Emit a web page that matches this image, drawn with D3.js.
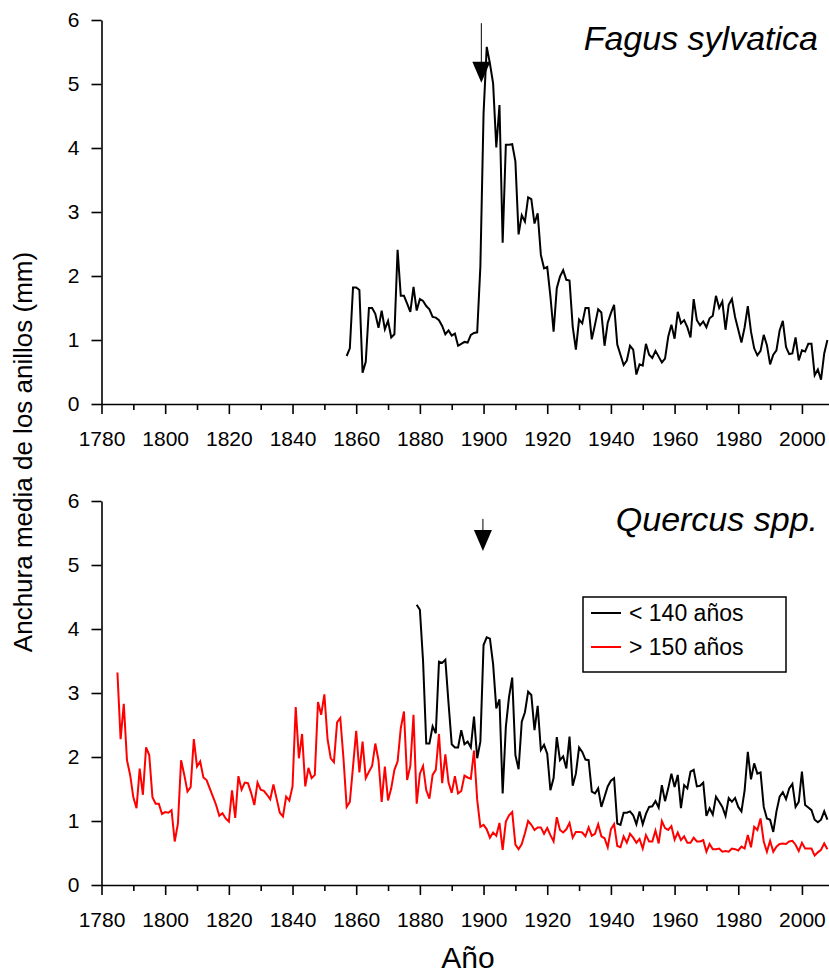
<!DOCTYPE html>
<html>
<head>
<meta charset="utf-8">
<script src="https://cdnjs.cloudflare.com/ajax/libs/d3/7.8.5/d3.min.js"></script>
<style>
    body { margin: 0; background: #fff; }
    svg { display: block; font-family: "Liberation Sans", Arial, sans-serif; }
    .axis path, .axis line { stroke: #000; stroke-width: 1.6px; }
    .axis text { font-size: 21px; fill: #000; font-family: "Liberation Sans", Arial, sans-serif; }
</style>
</head>
<body>
<script>
// Fagus sylvatica, mean ring width (mm), one value per year from 1857
var fagusStart = 1857;
var fagusWidth = [
    0.75, 0.87, 1.82,
    1.82, 1.78, 0.49, 0.66, 1.50, 1.50, 1.41, 1.19, 1.46, 1.17,
    1.30, 1.04, 1.09, 2.41, 1.69, 1.69, 1.57, 1.44, 1.83, 1.46,
    1.64, 1.61, 1.53, 1.48, 1.36, 1.35, 1.31, 1.22, 1.09, 1.15,
    1.07, 1.10, 0.91, 0.94, 0.97, 0.96, 1.08, 1.11, 1.12, 2.15,
    4.54, 5.58, 5.32, 5.01, 4.01, 4.67, 2.52, 4.05, 4.05, 4.06,
    3.79, 2.65, 2.95, 2.85, 3.23, 3.20, 2.82, 2.98, 2.33, 2.12,
    2.14, 1.68, 1.13, 1.81, 1.99, 2.09, 1.94, 1.93, 1.21, 0.85,
    1.32, 1.26, 1.50, 1.50, 1.01, 1.24, 1.48, 1.43, 0.91, 1.27,
    1.42, 1.55, 0.93, 0.77, 0.61, 0.68, 0.91, 0.85, 0.46, 0.62,
    0.60, 0.94, 0.77, 0.72, 0.83, 0.74, 0.65, 0.71, 1.05, 1.24,
    1.02, 1.44, 1.26, 1.31, 1.20, 1.04, 1.64, 1.31, 1.23, 1.29,
    1.20, 1.34, 1.38, 1.69, 1.50, 1.60, 1.16, 1.55, 1.64, 1.36,
    1.16, 0.96, 1.20, 1.53, 1.13, 0.87, 0.76, 0.83, 1.08, 0.92,
    0.62, 0.77, 0.84, 1.15, 1.30, 0.89, 0.78, 0.79, 1.04, 0.68,
    0.84, 0.82, 0.94, 0.94, 0.45, 0.54, 0.38, 0.79, 1.00
];

// Quercus spp. < 140 años, from 1879
var youngStart = 1879;
var youngWidth = [
    4.38,
    4.30, 3.50, 2.21, 2.21, 2.48, 2.37, 3.49, 3.47, 3.52, 2.84,
    2.20, 2.15, 2.15, 2.42, 2.20, 2.24, 2.15, 2.63, 1.98, 2.24,
    3.75, 3.87, 3.85, 3.45, 2.76, 2.90, 1.43, 2.47, 2.94, 3.24,
    2.03, 1.81, 2.55, 2.70, 3.02, 2.97, 2.42, 2.80, 2.11, 2.19,
    2.05, 1.48, 1.67, 2.31, 1.95, 2.01, 1.82, 2.32, 1.55, 1.74,
    2.15, 2.08, 1.96, 1.95, 1.46, 1.43, 1.51, 1.22, 1.38, 1.54,
    1.63, 1.67, 0.96, 0.94, 1.13, 1.13, 1.15, 1.09, 0.95, 1.15,
    0.95, 1.11, 1.22, 1.23, 1.31, 1.21, 1.56, 1.31, 1.51, 1.74,
    1.53, 1.72, 1.20, 1.56, 1.51, 1.77, 1.80, 1.54, 1.55, 1.60,
    1.08, 1.20, 1.10, 1.38, 1.30, 1.22, 1.08, 1.36, 1.30, 1.36,
    1.22, 1.15, 1.48, 2.08, 1.65, 1.90, 1.74, 1.76, 1.22, 1.04,
    1.02, 0.83, 1.15, 1.38, 1.45, 1.34, 1.51, 1.58, 1.22, 1.30,
    1.77, 1.25, 1.21, 1.17, 1.02, 0.98, 1.02, 1.15, 1.02
];

// Quercus spp. > 150 años, from 1785
var oldStart = 1785;
var oldWidth = [
    3.32, 2.28, 2.83, 1.95, 1.72,
    1.37, 1.20, 1.82, 1.41, 2.15, 2.03, 1.37, 1.27, 1.27, 1.11,
    1.14, 1.13, 1.17, 0.68, 0.96, 1.95, 1.72, 1.46, 1.53, 2.28,
    1.85, 1.93, 1.68, 1.64, 1.51, 1.38, 1.25, 1.08, 1.12, 1.04,
    0.99, 1.48, 1.05, 1.70, 1.49, 1.60, 1.59, 1.44, 1.25, 1.60,
    1.49, 1.47, 1.41, 1.34, 1.57, 1.35, 1.13, 1.07, 1.38, 1.32,
    1.54, 2.78, 1.98, 2.36, 1.54, 1.83, 1.67, 1.72, 2.86, 2.66,
    2.98, 2.28, 1.98, 1.92, 2.54, 2.61, 1.98, 1.22, 1.30, 1.85,
    2.41, 1.76, 2.24, 1.67, 1.77, 1.86, 2.21, 1.95, 1.30, 1.85,
    1.32, 1.51, 1.80, 1.93, 2.45, 2.71, 1.64, 1.86, 2.66, 1.27,
    1.74, 1.86, 1.48, 1.35, 1.72, 1.80, 2.36, 1.59, 2.04, 1.60,
    1.44, 1.70, 1.43, 1.47, 1.71, 1.68, 1.66, 2.10, 1.33, 0.91,
    0.94, 0.87, 0.74, 0.82, 0.77, 0.97, 0.55, 0.99, 1.09, 1.14,
    0.63, 0.56, 0.64, 0.81, 1.00, 0.94, 0.86, 0.90, 0.90, 0.80,
    0.89, 0.78, 0.68, 1.06, 0.86, 0.82, 0.87, 0.97, 0.74, 0.83,
    0.83, 0.82, 0.76, 0.90, 0.77, 0.80, 0.95, 0.76, 0.73, 0.59,
    0.87, 0.95, 0.61, 0.59, 0.76, 0.66, 0.80, 0.74, 0.66, 0.72,
    0.57, 0.78, 0.68, 0.68, 0.85, 0.65, 1.00, 0.89, 0.86, 0.92,
    0.71, 0.82, 0.70, 0.76, 0.66, 0.66, 0.74, 0.68, 0.68, 0.70,
    0.52, 0.64, 0.56, 0.56, 0.57, 0.52, 0.53, 0.52, 0.57, 0.56,
    0.54, 0.60, 0.57, 0.78, 0.59, 0.91, 0.86, 1.04, 0.68, 0.52,
    0.69, 0.52, 0.60, 0.64, 0.65, 0.64, 0.68, 0.69, 0.63, 0.53,
    0.66, 0.57, 0.57, 0.57, 0.46, 0.51, 0.55, 0.65, 0.56
];

// Axis ticks
var majorYears = [1780, 1800, 1820, 1840, 1860, 1880, 1900, 1920, 1940, 1960, 1980, 2000];
var minorYears = [1790, 1810, 1830, 1850, 1870, 1890, 1910, 1930, 1950, 1970, 1990];
var widthTicks = [0, 1, 2, 3, 4, 5, 6];

// Arrows marking 1899 (year, top of shaft, tip) per panel
var arrowYear = [1899.3, 1899.8];
var arrowFrom = [5.95, 5.72];
var arrowTo = [5.02, 5.22];

var legendLabels = ["< 140 años", "> 150 años"];
var legendColors = ["#000", "#ff0000"];

window.onload = function(){

    var w = 829, h = 975;

    var svg = d3.select("body")
        .append("svg")
        .attr("width", w)
        .attr("height", h);

    var x = d3.scaleLinear()
        .domain([1780, 2008.5])
        .range([101.5, 829]);

    // Turn a start year + values list into points
    function toPoints(start, values){
        return values.map(function(v, i){
            return { year: start + i, value: v };
        });
    }

    function drawPanel(top, bottom, idx, title, series){
        var y = d3.scaleLinear()
            .domain([0, 6])
            .range([bottom, top]);

        // minor x ticks
        var minor = svg.append("g")
            .attr("class", "axis")
            .attr("transform", "translate(0," + bottom + ")")
            .call(d3.axisBottom(x).tickValues(minorYears).tickSize(6).tickSizeOuter(0).tickFormat(""));
        minor.select(".domain").remove();

        svg.append("g")
            .attr("class", "axis")
            .attr("transform", "translate(0," + bottom + ")")
            .call(d3.axisBottom(x)
                .tickValues(majorYears)
                .tickSize(10)
                .tickSizeOuter(0)
                .tickPadding(17)
                .tickFormat(d3.format("d")));

        svg.append("g")
            .attr("class", "axis")
            .attr("transform", "translate(" + x(1780) + ",0)")
            .call(d3.axisLeft(y)
                .tickValues(widthTicks)
                .tickSize(10)
                .tickSizeOuter(0)
                .tickPadding(12)
                .tickFormat(d3.format("d")));

        var line = d3.line()
            .x(function(d){ return x(d.year); })
            .y(function(d){ return y(d.value); });

        series.forEach(function(s){
            svg.append("path")
                .datum(s.points)
                .attr("fill", "none")
                .attr("stroke", s.color)
                .attr("stroke-width", 2)
                .attr("stroke-linejoin", "miter")
                .attr("d", line);
        });

        // arrow
        var ax = x(arrowYear[idx]);
        svg.append("line")
            .attr("x1", ax).attr("x2", ax)
            .attr("y1", y(arrowFrom[idx]))
            .attr("y2", y(arrowTo[idx]) - 15)
            .attr("stroke", "#000")
            .attr("stroke-width", 1);
        var tip = y(arrowTo[idx]);
        svg.append("path")
            .attr("d", "M" + (ax - 9) + "," + (tip - 21) + "L" + (ax + 9) + "," + (tip - 21) + "L" + ax + "," + tip + "Z")
            .attr("fill", "#000");

        svg.append("text")
            .attr("x", 818)
            .attr("y", top + 30)
            .attr("text-anchor", "end")
            .style("font-size", "34px")
            .style("font-style", "italic")
            .text(title);

        return y;
    }

    drawPanel(20, 404, 0, "Fagus sylvatica", [
        { points: toPoints(fagusStart, fagusWidth), color: "#000" }
    ]);

    drawPanel(501, 885, 1, "Quercus spp.", [
        { points: toPoints(oldStart, oldWidth), color: "#ff0000" },
        { points: toPoints(youngStart, youngWidth), color: "#000" }
    ]);

    // legend
    var legend = svg.append("g")
        .attr("class", "legend")
        .attr("transform", "translate(583,597)");
    legend.append("rect")
        .attr("width", 203)
        .attr("height", 75)
        .attr("fill", "#fff")
        .attr("stroke", "#000")
        .attr("stroke-width", 1.5);
    var items = legend.selectAll(".item")
        .data(legendLabels)
        .enter()
        .append("g")
        .attr("class", "item")
        .attr("transform", function(d, i){ return "translate(0," + (16 + i * 34) + ")"; });
    items.append("line")
        .attr("x1", 8).attr("x2", 38)
        .attr("stroke", function(d, i){ return legendColors[i]; })
        .attr("stroke-width", 2);
    items.append("text")
        .attr("x", 46)
        .attr("dy", "0.35em")
        .style("font-size", "23px")
        .text(function(d){ return d; });

    // axis titles
    svg.append("text")
        .attr("x", 468)
        .attr("y", 968)
        .attr("text-anchor", "middle")
        .style("font-size", "30px")
        .text("Año");

    svg.append("text")
        .attr("transform", "translate(32,452) rotate(-90)")
        .attr("text-anchor", "middle")
        .style("font-size", "26px")
        .text("Anchura media de los anillos (mm)");
};
</script>
</body>
</html>
